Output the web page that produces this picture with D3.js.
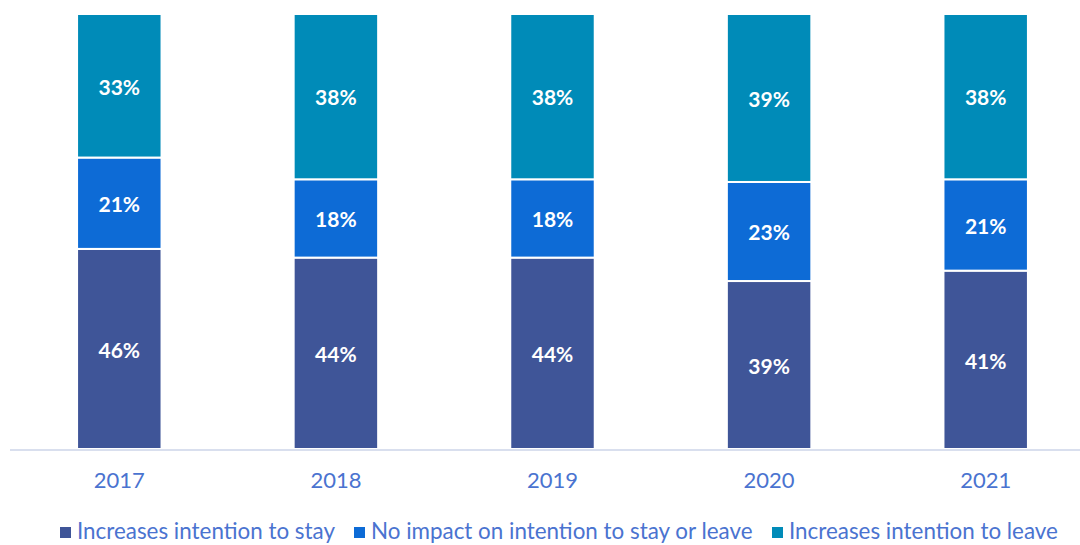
<!DOCTYPE html>
<html>
<head>
<meta charset="utf-8">
<script src="https://cdn.jsdelivr.net/npm/d3@7"></script>
<style>
  html, body { margin: 0; padding: 0; background: #fff; }
  svg { display: block; font-family: Lato, "Open Sans", sans-serif; }
</style>
</head>
<body>
<svg id="chart" width="1080" height="545"></svg>
<script>
// Survey responses by year, percent of respondents
const years = ["2017", "2018", "2019", "2020", "2021"];
const stayValues = [46, 44, 44, 39, 41];
const noImpactValues = [21, 18, 18, 23, 21];
const leaveValues = [33, 38, 38, 39, 38];
const seriesNames = [
  "Increases intention to stay",
  "No impact on intention to stay or leave",
  "Increases intention to leave"
];
const seriesColors = ["#3F5598", "#0D6BD6", "#008BB8"];

const rows = years.map((yr, i) => ({
  year: yr,
  stay: stayValues[i],
  noImpact: noImpactValues[i],
  leave: leaveValues[i]
}));
const keys = ["stay", "noImpact", "leave"];

const svg = d3.select("#chart");
const plotBottom = 449, plotTop = 14;

const x = d3.scaleBand().domain(years).range([11, 1094]).paddingInner(0.61).paddingOuter(0.305);
const y = d3.scaleLinear().domain([0, 1]).range([plotBottom, plotTop]);

// each column fills the full height: shares of that year's total
const stack = d3.stack().keys(keys).offset(d3.stackOffsetExpand);
const layers = stack(rows);

const g = svg.append("g");
layers.forEach((layer, li) => {
  const grp = g.append("g");
  grp.selectAll("rect")
    .data(layer)
    .join("rect")
    .attr("x", d => x(d.data.year))
    .attr("width", x.bandwidth())
    .attr("y", d => y(d[1]))
    .attr("height", d => y(d[0]) - y(d[1]))
    .attr("fill", seriesColors[li])
    .attr("stroke", "#fff")
    .attr("stroke-width", 2);

  grp.selectAll("text")
    .data(layer)
    .join("text")
    .attr("x", d => x(d.data.year) + x.bandwidth() / 2)
    .attr("y", d => (y(d[0]) + y(d[1])) / 2)
    .attr("dy", "0.42em")
    .attr("text-anchor", "middle")
    .attr("fill", "#fff")
    .attr("font-weight", 700)
    .attr("font-size", 21)
    .text(d => d.data[keys[li]] + "%");
});

// category axis
const axis = svg.append("g").attr("transform", `translate(0,${plotBottom + 1})`)
  .call(d3.axisBottom(x).tickSize(0).tickPadding(22));
axis.select(".domain").remove();
axis.append("line").attr("x1", 10).attr("x2", 1080).attr("y1", 0).attr("y2", 0)
  .attr("stroke", "#D9DFEE").attr("stroke-width", 2);
axis.selectAll(".tick text")
  .attr("font-family", "Lato, 'Open Sans', sans-serif")
  .attr("font-size", 22)
  .attr("fill", "#4A73D0");

// legend
const legendX = [60, 354, 772];
const legend = svg.append("g").attr("transform", "translate(0,531)");
seriesNames.forEach((name, i) => {
  const item = legend.append("g").attr("transform", `translate(${legendX[i]},0)`);
  item.append("rect").attr("x", 0).attr("y", -4).attr("width", 11).attr("height", 11)
    .attr("fill", seriesColors[i]);
  item.append("text").attr("x", 17).attr("y", 0).attr("dy", "0.36em")
    .attr("font-size", 22.4).attr("fill", "#4A73D0").text(name);
});
</script>
</body>
</html>
